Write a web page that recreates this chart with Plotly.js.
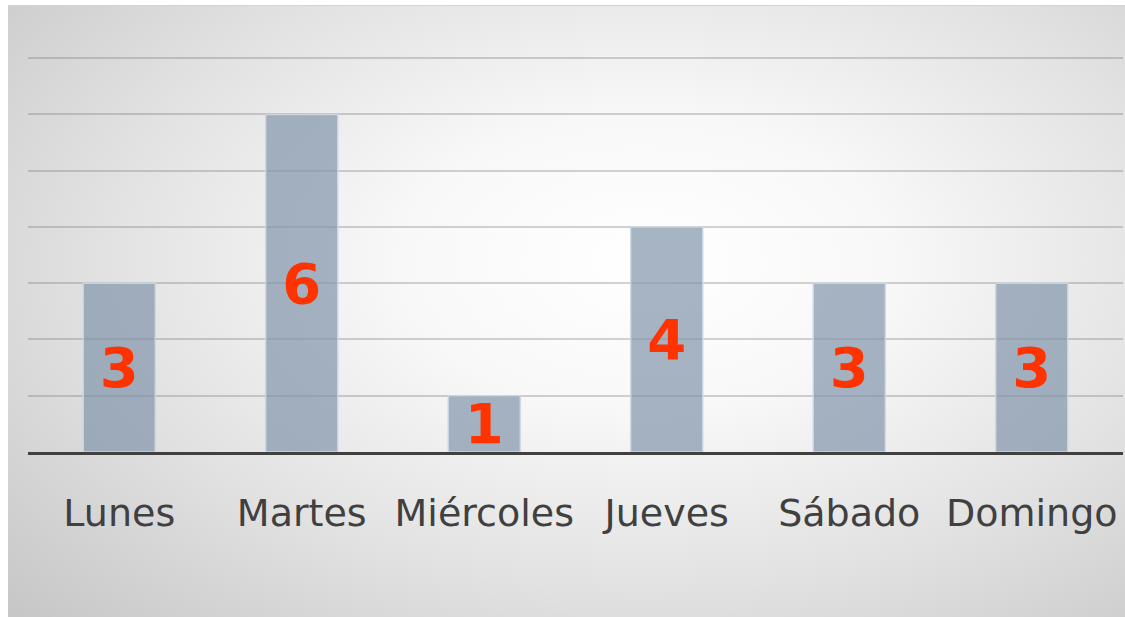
<!DOCTYPE html>
<html>
<head>
<meta charset="utf-8">
<script src="https://cdn.plot.ly/plotly-3.0.1.min.js"></script>
<style>
  html, body { margin: 0; padding: 0; background: #ffffff; width: 1125px; height: 617px; overflow: hidden; }
  #chart {
    position: absolute; left: 8px; top: 5px; width: 1117px; height: 612px;
    background: radial-gradient(ellipse 78% 85% at 57% 42%, #ffffff 0%, #f8f8f8 28%, #e2e2e2 62%, #c6c6c6 100%);
    border-top: 1px solid #d4d4d4;
  }
</style>
</head>
<body>
<div id="chart"></div>
<script>
const days = ["Lunes", "Martes", "Miércoles", "Jueves", "Sábado", "Domingo"];
const counts = [3, 6, 1, 4, 3, 3];

const trace = {
  type: "bar",
  x: days,
  y: counts,
  text: counts.map(String),
  textposition: "inside",
  insidetextanchor: "middle",
  constraintext: "none",
  textangle: 0,
  textfont: { family: "DejaVu Sans", size: 56, color: "#ff3300", weight: "bold" },
  marker: { color: "rgba(130,148,170,0.7)", line: { color: "rgba(205,216,228,0.9)", width: 1.5 } },
  hoverinfo: "skip"
};

const layout = {
  width: 1117,
  height: 612,
  margin: { l: 20, r: 2, t: 51, b: 166 },
  paper_bgcolor: "rgba(0,0,0,0)",
  plot_bgcolor: "rgba(0,0,0,0)",
  bargap: 0.605,
  showlegend: false,
  xaxis: {
    type: "category",
    showgrid: false,
    showline: true,
    linecolor: "#404040",
    linewidth: 3,
    ticks: "",
    ticklabelstandoff: 25,
    tickfont: { family: "DejaVu Sans", size: 38, color: "#404040" },
    fixedrange: true
  },
  yaxis: {
    range: [0, 7.02],
    tickvals: [1, 2, 3, 4, 5, 6, 7],
    showgrid: true,
    gridcolor: "rgba(110,110,110,0.3)",
    gridwidth: 2,
    zeroline: false,
    showticklabels: false,
    ticks: "",
    fixedrange: true
  }
};

Plotly.newPlot("chart", [trace], layout, { displayModeBar: false, staticPlot: true });
</script>
</body>
</html>
